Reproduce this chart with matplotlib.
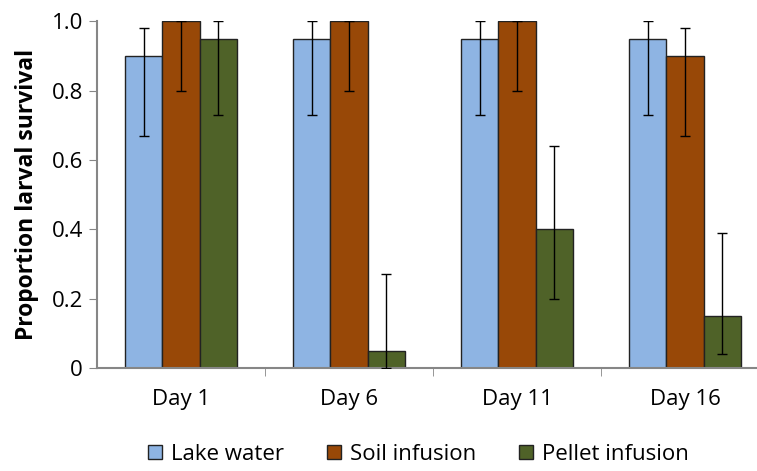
import matplotlib.pyplot as plt
import numpy as np

plt.rcParams['font.family'] = ['Open Sans', 'DejaVu Sans']

days = ['Day 1', 'Day 6', 'Day 11', 'Day 16']
series = ['Lake water', 'Soil infusion', 'Pellet infusion']
colors = ['#8EB4E3', '#984807', '#4F6228']

lake = [0.90, 0.95, 0.95, 0.95]
lake_lo = [0.67, 0.73, 0.73, 0.73]
lake_hi = [0.98, 1.00, 1.00, 1.00]

soil = [1.00, 1.00, 1.00, 0.90]
soil_lo = [0.80, 0.80, 0.80, 0.67]
soil_hi = [1.00, 1.00, 1.00, 0.98]

pellet = [0.95, 0.05, 0.40, 0.15]
pellet_lo = [0.73, 0.00, 0.20, 0.04]
pellet_hi = [1.00, 0.27, 0.64, 0.39]

values = [lake, soil, pellet]
lows = [lake_lo, soil_lo, pellet_lo]
highs = [lake_hi, soil_hi, pellet_hi]

fig = plt.figure(figsize=(7.57, 4.71), dpi=100)
ax = fig.add_axes([0.128, 0.219, 0.888, 0.736])

x = np.arange(len(days))
w = 2 / 9
for i, (v, lo, hi) in enumerate(zip(values, lows, highs)):
    v = np.array(v)
    err = [v - np.array(lo), np.array(hi) - v]
    ax.bar(x + (i - 1) * w, v, w, color=colors[i], edgecolor='#222222',
           linewidth=1, label=series[i], zorder=2)
    ax.errorbar(x + (i - 1) * w, v, yerr=err, fmt='none', ecolor='black',
                elinewidth=1, capsize=3.5, capthick=1, zorder=3)

ax.set_xlim(-0.5, 3.5)
ax.set_ylim(0, 1.0)
ax.set_yticks([0, 0.2, 0.4, 0.6, 0.8, 1.0])
ax.set_yticklabels(['0', '0.2', '0.4', '0.6', '0.8', '1.0'])
ax.set_xticks(x)
ax.set_xticklabels(days)
ax.set_xticks(np.arange(0.5, 3.5, 1), minor=True)
ax.tick_params(axis='x', which='major', length=0, pad=15, labelsize=16)
ax.tick_params(axis='x', which='minor', length=6, color='#868686', direction='out')
ax.tick_params(axis='y', length=6, color='#868686', labelsize=16, pad=4)

for s in ['top', 'right']:
    ax.spines[s].set_visible(False)
for s in ['left', 'bottom']:
    ax.spines[s].set_color('#868686')
    ax.spines[s].set_linewidth(1.5)

ax.set_ylabel('Proportion larval survival', fontsize=16.5, fontweight='bold', labelpad=9)

fig.legend(loc='lower center', bbox_to_anchor=(0.553, -0.03), ncol=3, frameon=False,
           fontsize=16, handlelength=0.6, handleheight=0.6, columnspacing=1.95,
           handletextpad=0.42)

fig.savefig('out.png', dpi=100)
